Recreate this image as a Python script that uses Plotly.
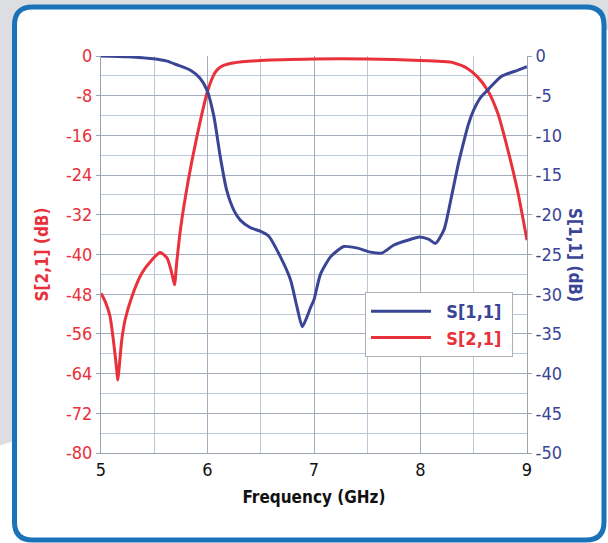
import plotly.graph_objects as go

# ---------------- data ----------------
freq_s21 = [5.0, 5.04, 5.085, 5.116, 5.148, 5.157, 5.195, 5.226, 5.29, 5.383, 5.477, 5.555,
            5.62, 5.665, 5.69, 5.71, 5.745, 5.82, 5.90, 5.995, 6.05, 6.09, 6.15, 6.24, 6.5,
            7.0, 7.5, 8.0, 8.2, 8.31, 8.44, 8.535, 8.63, 8.725, 8.82, 8.91, 9.0]
s21_db = [-47.8, -49.5, -52.5, -57.2, -63.3, -65.3, -57.2, -53.2, -48.5, -43.8, -41.1, -39.6,
          -40.7, -43.8, -46.1, -41.8, -35.1, -25.0, -16.3, -7.5, -4.2, -2.8, -1.9, -1.4, -0.9,
          -0.6, -0.6, -0.9, -1.1, -1.35, -2.5, -4.2, -6.9, -11.5, -18.9, -27.0, -37.1]

freq_s11 = [5.0, 5.25, 5.49, 5.62, 5.71, 5.84, 5.93, 5.995, 6.06, 6.12, 6.18, 6.25, 6.31, 6.4,
            6.5, 6.575, 6.685, 6.78, 6.84, 6.89, 6.93, 6.97, 7.0, 7.06, 7.155, 7.28, 7.41, 7.53,
            7.64, 7.75, 7.88, 7.99, 8.08, 8.14, 8.22, 8.285, 8.35, 8.41, 8.45, 8.50, 8.56, 8.63,
            8.755, 8.91, 9.0]
s11_db = [0, -0.1, -0.35, -0.65, -1.1, -1.8, -2.8, -4.3, -7.6, -12.7, -16.9, -19.5, -20.7, -21.6,
          -22.1, -22.7, -25.3, -28.2, -31.6, -34.1, -33.0, -31.6, -30.7, -27.5, -25.3, -24.0, -24.2,
          -24.7, -24.8, -23.8, -23.2, -22.8, -23.1, -23.6, -21.9, -18.1, -13.9, -10.6, -8.6, -6.8,
          -5.3, -4.3, -2.6, -1.8, -1.35]

x_ticks = [5, 6, 7, 8, 9]
x_ticklabels = ["5", "6", "7", "8", "9"]
left_ticks = [0, -8, -16, -24, -32, -40, -48, -56, -64, -72, -80]
left_ticklabels = ["0", "-8", "-16", "-24", "-32", "-40", "-48", "-56", "-64", "-72", "-80"]
right_ticks = [0, -5, -10, -15, -20, -25, -30, -35, -40, -45, -50]
right_ticklabels = ["0", "-5", "-10", "-15", "-20", "-25", "-30", "-35", "-40", "-45", "-50"]

# ---------------- style ----------------
RED = "#e8313a"
BLUE = "#3a4595"
FONT = "DejaVu Sans Condensed, Liberation Sans Narrow, Liberation Sans, Arial, sans-serif"
W, H = 608, 543
L, R, T, B = 101, 81, 56, 90
PW, PH = W - L - R, H - T - B


def px(x):
    return (x - L) / PW


def py(y):
    return (H - B - y) / PH


fig = go.Figure()
fig.add_trace(go.Scatter(x=freq_s11, y=s11_db, yaxis="y2", mode="lines",
                         name="&nbsp;&nbsp;<span style='color:%s'><b>S[1,1]</b></span>&nbsp;" % BLUE,
                         line=dict(color=BLUE, width=3, shape="spline", smoothing=0.6)))
fig.add_trace(go.Scatter(x=freq_s21, y=s21_db, yaxis="y", mode="lines",
                         name="&nbsp;&nbsp;<span style='color:%s'><b>S[2,1]</b></span>&nbsp;" % RED,
                         line=dict(color=RED, width=3, shape="spline", smoothing=0.6)))

shapes = []
# gray outside the card
shapes.append(dict(type="path", xref="paper", yref="paper", layer="below",
                   path="M %f %f L %f %f L %f %f L %f %f L %f %f L %f %f Z" % (
                       px(-2), py(-2), px(W + 2), py(-2), px(W + 2), py(30),
                       px(14), py(30), px(14), py(441), px(-2), py(446)),
                   fillcolor="#dcdee1", line=dict(width=0)))
# card (rounded rect)
x0c, x1c, y0c, y1c, r = 14.5, 604, 7, 540, 18
path = ("M %f %f L %f %f Q %f %f %f %f L %f %f Q %f %f %f %f L %f %f Q %f %f %f %f L %f %f Q %f %f %f %f Z" % (
    px(x0c + r), py(y0c), px(x1c - r), py(y0c), px(x1c), py(y0c), px(x1c), py(y0c + r),
    px(x1c), py(y1c - r), px(x1c), py(y1c), px(x1c - r), py(y1c),
    px(x0c + r), py(y1c), px(x0c), py(y1c), px(x0c), py(y1c - r),
    px(x0c), py(y0c + r), px(x0c), py(y0c), px(x0c + r), py(y0c)))
shapes.append(dict(type="path", xref="paper", yref="paper", layer="below", path=path,
                   fillcolor="#ffffff", line=dict(color="#1a73b8", width=5)))

fig.update_layout(
    width=W, height=H,
    margin=dict(l=L, r=R, t=T, b=B, pad=0),
    paper_bgcolor="#ffffff",
    plot_bgcolor="#d9e3f1",
    font=dict(family=FONT, size=16, color="#111111"),
    shapes=shapes,
    showlegend=True,
    legend=dict(x=px(365), y=py(292), xanchor="left", yanchor="top",
                bgcolor="#ffffff", bordercolor="#b0b0b0", borderwidth=1,
                font=dict(family=FONT, size=18), itemwidth=60,
                tracegroupgap=2),
    xaxis=dict(range=[5, 9], tickvals=x_ticks, ticktext=x_ticklabels,
               showgrid=True, gridcolor="#a3adbd", gridwidth=1,
               minor=dict(dtick=0.5, tick0=5, showgrid=True, gridcolor="#bcc7d8", gridwidth=1),
               showline=True, linecolor="#9aa3b0", linewidth=1, mirror=False,
               ticks="", zeroline=False,
               tickfont=dict(family=FONT, size=18, color="#111111"),
               title=dict(text="<b>Frequency (GHz)</b>", font=dict(family=FONT, size=17, color="#111111"),
                          standoff=12)),
    yaxis=dict(range=[-80, 0], tickvals=left_ticks, ticktext=left_ticklabels,
               showgrid=True, gridcolor="#a3adbd", gridwidth=1,
               minor=dict(dtick=4, tick0=0, showgrid=True, gridcolor="#bcc7d8", gridwidth=1),
               showline=True, linecolor="#9aa3b0", linewidth=1,
               ticks="outside", ticklen=4, tickcolor="#9aa3b0",
               zeroline=False,
               tickfont=dict(family=FONT, size=18, color=RED),
               title=dict(text="<b>S[2,1] (dB)</b>", font=dict(family=FONT, size=17, color=RED),
                          standoff=12)),
    yaxis2=dict(range=[-50, 0], tickvals=right_ticks, ticktext=right_ticklabels,
                overlaying="y", side="right", showgrid=False, zeroline=False,
                showline=True, linecolor="#9aa3b0", linewidth=1,
                ticks="outside", ticklen=4, tickcolor="#9aa3b0",
                tickfont=dict(family=FONT, size=18, color=BLUE)),
    annotations=[dict(text="<b>S[1,1] (dB)</b>", xref="paper", yref="paper",
                      x=px(587), y=py(255), textangle=90, showarrow=False,
                      font=dict(family=FONT, size=17, color=BLUE))],
)

fig.write_html("out.html", config={"displayModeBar": False},
               post_script="document.body.style.margin='0';document.body.style.overflow='hidden';")
